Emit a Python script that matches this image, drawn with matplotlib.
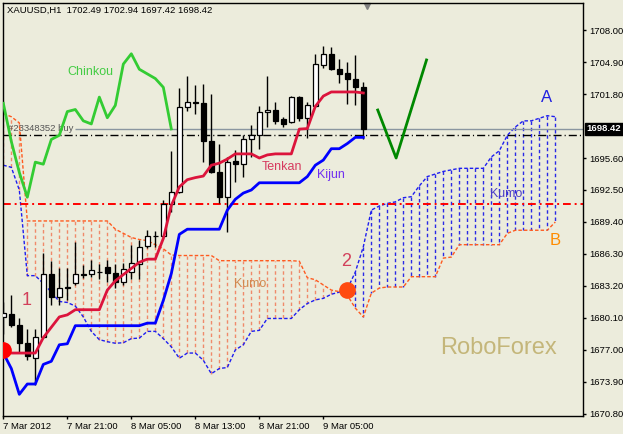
import matplotlib.pyplot as plt
import matplotlib.transforms as mtransforms

# XAUUSD H1, bar 0 = 7 Mar 2012 13:00, one bar per hour
opens = [1680.2, 1680.5, 1679.4, 1677.7, 1676.2, 1678.3, 1684.4, 1682.1, 1683.0, 1683.5,
         1684.3, 1684.4, 1684.55, 1685.0, 1684.5, 1683.6, 1684.6, 1685.3, 1687.1, 1688.0,
         1688.0, 1691.1, 1692.3, 1700.5, 1701.0, 1700.9, 1697.2, 1694.2, 1691.8, 1695.3,
         1695.0, 1697.4, 1697.8, 1700.1, 1700.3, 1699.35, 1699.1, 1701.5, 1699.5, 1700.6,
         1704.6, 1705.7, 1704.2, 1703.85, 1703.3, 1702.49]
highs = [1681.6, 1682.3, 1680.1, 1679.0, 1679.0, 1686.4, 1685.6, 1684.9, 1684.9, 1687.5,
         1685.2, 1685.7, 1685.3, 1685.7, 1685.3, 1685.4, 1687.2, 1687.7, 1688.6, 1688.55,
         1691.5, 1696.3, 1702.4, 1703.5, 1702.7, 1702.8, 1701.8, 1697.0, 1695.7, 1696.4,
         1697.8, 1698.8, 1700.6, 1703.5, 1701.0, 1699.55, 1701.6, 1701.6, 1701.05, 1705.7,
         1706.45, 1706.4, 1705.15, 1704.9, 1705.6, 1702.94]
lows = [1678.5, 1679.2, 1676.8, 1676.0, 1673.6, 1678.2, 1681.4, 1681.4, 1681.8, 1683.3,
        1684.0, 1684.1, 1683.9, 1683.6, 1683.0, 1683.3, 1683.9, 1683.9, 1686.9, 1687.0,
        1687.8, 1690.4, 1692.2, 1700.2, 1699.9, 1695.2, 1694.1, 1691.2, 1688.45, 1693.3,
        1693.8, 1695.7, 1696.5, 1698.6, 1698.9, 1698.6, 1699.0, 1699.2, 1697.5, 1700.5,
        1704.3, 1704.1, 1702.85, 1700.8, 1700.7, 1697.42]
closes = [1680.6, 1679.4, 1677.7, 1676.4, 1678.3, 1684.4, 1682.1, 1683.0, 1683.1, 1684.4,
          1684.4, 1684.7, 1684.6, 1684.5, 1683.6, 1684.8, 1685.4, 1687.0, 1688.0, 1688.05,
          1691.1, 1692.3, 1700.5, 1701.0, 1700.95, 1697.2, 1694.2, 1691.8, 1695.2, 1695.0,
          1697.4, 1697.8, 1700.1, 1700.3, 1699.2, 1698.9, 1701.5, 1699.5, 1700.7, 1704.7,
          1705.7, 1704.2, 1703.75, 1703.3, 1702.45, 1698.42]

tenkan = [1676.7, 1676.7, 1676.7, 1676.7, 1676.7, 1678.2, 1679.2, 1680.2, 1680.4, 1680.9,
          1680.9, 1680.9, 1680.9, 1682.8, 1683.7, 1684.3, 1684.9, 1685.5, 1685.8, 1685.8,
          1687.8, 1691.0, 1692.8, 1693.5, 1693.7, 1693.85, 1694.9, 1695.1, 1695.5, 1696.0,
          1696.0, 1696.0, 1695.6, 1695.9, 1696.0, 1696.0, 1696.0, 1698.4, 1698.45, 1700.6,
          1701.6, 1702.0, 1702.0, 1702.0, 1702.0, 1701.9]
kijun = [1676.7, 1675.2, 1672.7, 1673.7, 1673.7, 1675.6, 1675.9, 1677.5, 1677.6, 1679.35,
         1679.35, 1679.35, 1679.35, 1679.35, 1679.35, 1679.35, 1679.35, 1679.35, 1679.6, 1679.6,
         1681.8, 1684.4, 1688.2, 1688.7, 1688.7, 1688.7, 1688.7, 1688.7, 1690.55, 1691.6,
         1692.2, 1692.5, 1693.2, 1693.2, 1693.2, 1693.2, 1693.2, 1693.2, 1693.8, 1694.9,
         1695.4, 1696.5, 1696.5, 1697.0, 1697.6, 1697.6]
chinkou = [1700.9, 1697.2, 1694.2, 1691.8, 1695.2, 1695.0, 1697.4, 1697.8, 1700.1, 1700.3,
           1699.2, 1698.9, 1701.5, 1699.5, 1700.7, 1704.7, 1705.7, 1704.2, 1703.75, 1703.3,
           1702.45, 1698.42]

# Senkou spans run 24 bars past the last candle
span_a = [1694.9, 1694.7, 1692.5, 1684.2, 1684.2, 1683.45, 1682.6, 1681.7, 1681.6, 1681.25,
          1680.2, 1678.8, 1678.0, 1677.8, 1677.65, 1677.7, 1678.1, 1678.15, 1678.8, 1678.8,
          1678.1, 1677.3, 1676.2, 1676.7, 1676.7, 1676.0, 1674.7, 1675.2, 1675.3, 1677.0,
          1677.5, 1678.8, 1678.9, 1680.05, 1680.05, 1680.05, 1680.05, 1680.9, 1681.5, 1681.85,
          1682.0, 1682.4, 1682.6, 1682.9, 1684.55, 1687.0, 1690.55, 1690.95, 1691.2, 1691.35,
          1691.75, 1691.85, 1692.9, 1693.8, 1694.05, 1694.3, 1694.45, 1694.6, 1694.6, 1694.6,
          1694.6, 1695.7, 1696.3, 1697.8, 1698.6, 1699.2, 1699.2, 1699.45, 1699.7, 1699.6]
span_b = [1699.9, 1699.6, 1699.0, 1689.5, 1689.5, 1689.5, 1689.5, 1689.5, 1689.5, 1689.5,
          1689.5, 1689.5, 1689.5, 1689.5, 1688.7, 1688.3, 1687.9, 1687.7, 1687.6, 1687.2,
          1686.8, 1686.2, 1686.15, 1686.15, 1686.15, 1686.15, 1686.15, 1685.65, 1685.65, 1685.65,
          1685.65, 1685.65, 1685.65, 1685.65, 1685.65, 1685.65, 1685.65, 1685.6, 1684.0, 1683.8,
          1683.3, 1682.8, 1682.65, 1682.3, 1681.05, 1680.2, 1682.5, 1683.0, 1683.1, 1683.1,
          1683.1, 1684.1, 1684.1, 1684.1, 1684.1, 1685.9, 1686.0, 1687.2, 1687.2, 1687.2,
          1687.2, 1687.2, 1687.2, 1688.3, 1688.6, 1688.6, 1688.6, 1688.6, 1688.6, 1689.4]

time_ticks = [0, 8, 16, 24, 32, 40]
time_labels = ["7 Mar 2012", "7 Mar 21:00", "8 Mar 05:00", "8 Mar 13:00", "8 Mar 21:00", "9 Mar 05:00"]
price_ticks = [1708.0, 1704.9, 1701.8, 1695.6, 1692.5, 1689.4, 1686.3, 1683.2,
               1680.1, 1677.0, 1673.9, 1670.8]

bid = 1698.42
order_price = 1697.83
stop_level = 1691.14

# hand drawn "V" sketch (bar, price)
v_bars = [46.8, 49.1, 52.9]
v_prices = [1700.25, 1695.6, 1705.1]

BG = "#ECECDC"
plt.rcParams["font.family"] = ["Liberation Sans", "DejaVu Sans"]


def main():
    fig = plt.figure(figsize=(6.23, 4.34), dpi=100, facecolor=BG)
    ax = fig.add_axes([3 / 623, 18 / 434, 580 / 623, 413 / 434], facecolor=BG)

    # Kumo hatching and senkou lines
    cloud_x = list(range(len(span_a)))
    hatch_colors = ["#F08A6A" if b > a else "#2A2AE6" for a, b in zip(span_a, span_b)]
    ax.vlines(cloud_x, span_a, span_b, colors=hatch_colors, linestyles=(0, (2.5, 2)), lw=1, zorder=1)
    ax.plot(cloud_x, span_a, color="#1E1EF0", ls=(0, (2.5, 1.5)), lw=1, zorder=1.5)
    ax.plot(cloud_x, span_b, color="#FF5A1F", ls=(0, (2.5, 1.5)), lw=1, zorder=1.5)

    # horizontal levels
    ax.hlines(bid, 9.0, 80, color="#8A96A0", lw=1, zorder=2)
    ax.axhline(order_price, color="black", lw=1, ls=(0, (5.8, 2.2, 0.8, 2.2)), zorder=2)
    ax.axhline(stop_level, color="#FF0000", lw=1.4, ls=(0, (4, 2, 1, 2)), zorder=2)
    ax.text(0.6, bid, "#23348352 buy", fontsize=6.8, color="#555555", va="center", ha="left", zorder=2)

    # candles
    bars = list(range(len(opens)))
    ax.vlines(bars, lows, highs, color="black", lw=1, zorder=3)
    bottoms = [min(o, c) for o, c in zip(opens, closes)]
    heights = [max(abs(c - o), 0.03) for o, c in zip(opens, closes)]
    fills = ["white" if c >= o else "black" for o, c in zip(opens, closes)]
    ax.bar(bars, heights, bottom=bottoms, width=0.55, color=fills, edgecolor="black", lw=0.9, zorder=4)

    # ichimoku lines
    ax.plot(range(len(chinkou)), chinkou, color="#33CC33", lw=2, zorder=5)
    ax.plot(bars, kijun, color="#0000FF", lw=2, zorder=5)
    ax.plot(bars, tenkan, color="#DC143C", lw=2, zorder=5)

    # markers and sketch
    ax.plot([0], [1677.0], "o", color="#FF0000", ms=11, zorder=6)
    ax.plot([43], [1682.85], "o", color="#FF4A10", ms=11, zorder=6)
    ax.plot(v_bars, v_prices, color="#008800", lw=2, zorder=6)

    # labels
    ax.text(10.84, 1703.93, "Chinkou", color="#44CC44", fontsize=9, ha="center", va="center")
    ax.text(34.84, 1694.68, "Tenkan", color="#D63A5E", fontsize=9, ha="center", va="center", zorder=7)
    ax.text(40.96, 1693.95, "Kijun", color="#7030F0", fontsize=9, ha="center", va="center", zorder=7)
    ax.text(62.84, 1692.1, "Kumo", color="#4B3CC8", fontsize=9, ha="center", va="center", zorder=7)
    ax.text(30.84, 1683.4, "Kumo", color="#D2884E", fontsize=9, ha="center", va="center", zorder=7)
    ax.text(67.96, 1701.5, "A", color="#2020E0", fontsize=12, ha="center", va="center")
    ax.text(68.96, 1687.65, "B", color="#FF8C00", fontsize=12, ha="center", va="center")
    ax.text(2.96, 1681.84, "1", color="#D2405A", fontsize=13, ha="center", va="center")
    ax.text(42.84, 1685.6, "2", color="#D2405A", fontsize=13, ha="center", va="center")
    ax.text(61.84, 1677.2, "RoboForex", color="#C4B67A", fontsize=17, ha="center", va="center")

    ax.set_xlim(-0.04, 72.46)
    ax.set_ylim(1670.6, 1710.62)

    ax.yaxis.tick_right()
    ax.set_yticks(price_ticks)
    ax.set_yticklabels(["{:.2f}".format(p) for p in price_ticks])
    ax.set_xticks(time_ticks)
    ax.set_xticklabels(time_labels, ha="left")
    ax.tick_params(axis="both", labelsize=6.8, length=2.5, width=1, pad=2, colors="black")
    for s in ax.spines.values():
        s.set_color("black")
        s.set_linewidth(1)

    # price box on the right axis
    trans = mtransforms.blended_transform_factory(ax.transAxes, ax.transData)
    ax.text(1.006, bid, "{:.2f}".format(bid), transform=trans, fontsize=6.8, color="white",
            fontweight="bold", va="center", ha="left", clip_on=False,
            bbox=dict(facecolor="black", edgecolor="black", pad=1.2))
    # chart shift marker
    trans2 = mtransforms.blended_transform_factory(ax.transData, ax.transAxes)
    ax.plot([45.4], [0.993], "v", color="#808080", ms=5, transform=trans2, clip_on=False)

    fig.text(7 / 623, 1 - 10 / 434, "XAUUSD,H1  1702.49 1702.94 1697.42 1698.42",
             fontsize=6.8, color="black", va="center", ha="left")

    fig.savefig("out.png", dpi=100, facecolor=BG)


if __name__ == "__main__":
    main()
